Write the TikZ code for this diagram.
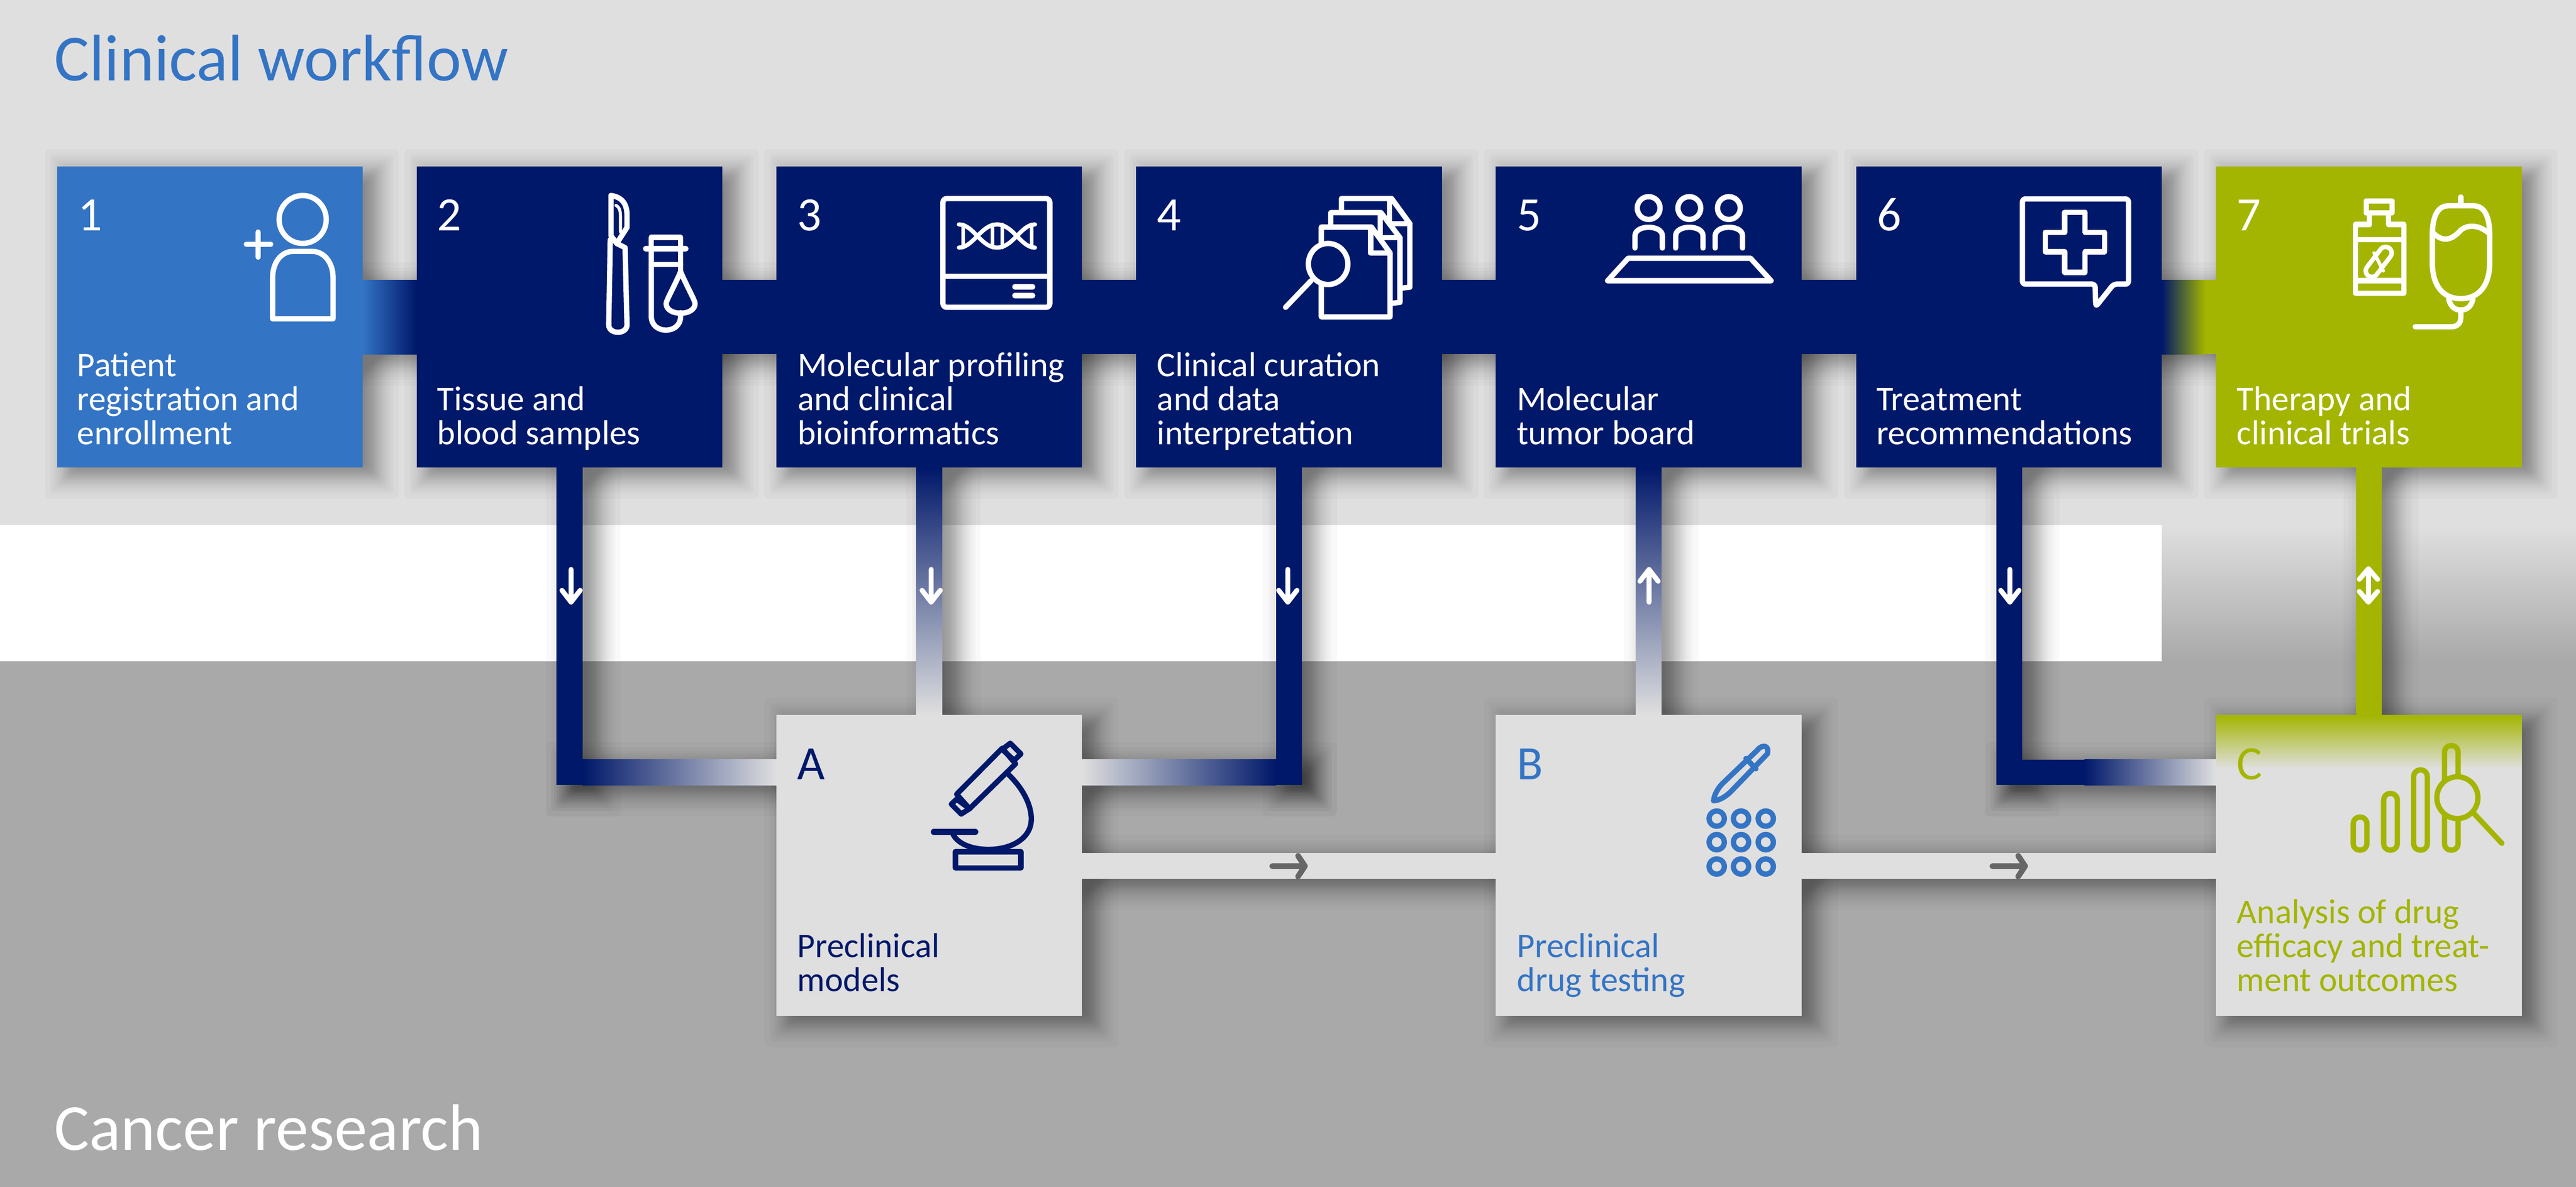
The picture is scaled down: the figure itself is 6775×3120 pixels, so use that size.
\documentclass[tikz,border=0pt]{standalone}
\usepackage{fontspec}
\setmainfont{Carlito}
\usetikzlibrary{calc}
\definecolor{navy}{HTML}{00186A}
\definecolor{blu}{HTML}{3474C4}
\definecolor{grn}{HTML}{A3B500}
\definecolor{lite}{HTML}{DFDFDF}
\definecolor{mid}{HTML}{A9A9A9}
\definecolor{arrgray}{HTML}{666666}
\pgfdeclarelayer{bgl}\pgfdeclarelayer{shl}\pgfdeclarelayer{conn}
\pgfsetlayers{bgl,shl,conn,main}
\newcommand{\softshadow}[4]{%
  \foreach \e in {64,50,42,35,29,24,19,15,11,7,3,0,-3,-7,-11,-15,-19,-24,-29,-35,-42,-50,-64}{%
    \pgfmathsetmacro{\ax}{min(#1+32-\e,(#1+#3)/2+32)}%
    \pgfmathsetmacro{\ay}{min(#2+18-\e,(#2+#4)/2+18)}%
    \pgfmathsetmacro{\bx}{max(#3+32+\e,(#1+#3)/2+32)}%
    \pgfmathsetmacro{\by}{max(#4+18+\e,(#2+#4)/2+18)}%
    \fill[black,fill opacity=0.025,rounded corners=12pt] (\ax,\ay) rectangle (\bx,\by);
  }}
\newcommand{\downarr}[1]{\draw[whitearrow] (#1,1497)--(#1,1583) (#1-24,1552)--(#1,1583)--(#1+24,1552);}
\newcommand{\uparr}[1]{\draw[whitearrow] (#1,1583)--(#1,1497) (#1-24,1528)--(#1,1497)--(#1+24,1528);}
\newcommand{\grayarr}[2]{\draw[grayarrow] (#1,2277)--(#2,2277) (#2-18,2250)--(#2,2277)--(#2-18,2304);}
\tikzset{
  box/.style={rectangle,draw=none,inner sep=0pt,outer sep=0pt,minimum width=804pt,minimum height=791pt},
  num/.style={anchor=base west,inner sep=0pt,font=\fontsize{126}{126}\selectfont},
  lab/.style={anchor=base west,inner sep=0pt,align=left,font=\fontsize{91}{89}\selectfont},
  bigt/.style={anchor=base west,inner sep=0pt,font=\fontsize{173}{173}\selectfont},
  whitearrow/.style={draw=white,line width=13pt,line cap=round,line join=round},
  grayarrow/.style={draw=arrgray,line width=15pt,line cap=round,line join=round},
  ic/.style={line width=14pt,line cap=round,line join=round},
  icw/.style={ic,draw=white},
  icn/.style={ic,draw=navy},
  icb/.style={ic,draw=blu},
  icg/.style={ic,draw=grn},
}
\begin{document}
\begin{tikzpicture}[x=1pt,y=-1pt]
\useasboundingbox (0,0) rectangle (6775,3120);
\begin{pgfonlayer}{bgl}
  \fill[lite] (0,0) rectangle (6775,1381);
  \fill[white] (0,1381) rectangle (5686,1738);
  \shade[top color=lite,bottom color=mid] (5686,1381) rectangle (6775,1738);
  \fill[mid] (0,1738) rectangle (6775,3120);
\end{pgfonlayer}
% boxes
\node[box,fill=blu]  (s1) at (552,833.5) {};
\node[box,fill=navy] (s2) at (1498,833.5) {};
\node[box,fill=navy] (s3) at (2444,833.5) {};
\node[box,fill=navy] (s4) at (3390,833.5) {};
\node[box,fill=navy] (s5) at (4336,833.5) {};
\node[box,fill=navy] (s6) at (5284,833.5) {};
\node[box,fill=grn]  (s7) at (6230,833.5) {};
\node[box,fill=lite] (A) at (2444,2275.5) {};
\node[box,fill=lite] (B) at (4336,2275.5) {};
\node[box,fill=lite] (C) at (6230,2275.5) {};
\shade[top color=grn,bottom color=lite] (C.north west) rectangle (C.east |- 0,2020);
\begin{pgfonlayer}{shl}
  \softshadow{150}{438}{953}{1229}
  \softshadow{1096}{438}{1900}{1229}
  \softshadow{2042}{438}{2846}{1229}
  \softshadow{2989}{438}{3792}{1229}
  \softshadow{3935}{438}{4738}{1229}
  \softshadow{4883}{438}{5686}{1229}
  \softshadow{5829}{438}{6630}{1229}
  \softshadow{2042}{1880}{2846}{2671}
  \softshadow{3935}{1880}{4738}{2671}
  \softshadow{5829}{1880}{6630}{2671}
  \softshadow{953}{736}{5829}{931}
  \softshadow{1468}{1229}{1536}{2064}
  \softshadow{1468}{1997}{2042}{2064}
  \softshadow{2416}{1229}{2483}{1880}
  \softshadow{3353}{1229}{3420}{2064}
  \softshadow{2846}{1997}{3420}{2064}
  \softshadow{4303}{1229}{4371}{1880}
  \softshadow{5253}{1229}{5320}{2064}
  \softshadow{5253}{1997}{5829}{2064}
  \softshadow{6196}{1229}{6264}{1880}
  \softshadow{2846}{2242}{3935}{2310}
  \softshadow{4738}{2242}{5829}{2310}
\end{pgfonlayer}
\begin{pgfonlayer}{conn}
  \shade[left color=blu,right color=navy] (s1.east |- 0,736) rectangle (s2.west |- 0,931);
  \draw[navy,line width=195pt] (s2) -- (s3);
  \draw[navy,line width=195pt] (s3) -- (s4);
  \draw[navy,line width=195pt] (s4) -- (s5);
  \draw[navy,line width=195pt] (s5) -- (s6);
  \fill[navy] (s6.east |- 0,736) rectangle (5690,931);
  \shade[left color=navy,right color=grn] (5686,736) rectangle (5800,931);
  \fill[grn] (5800,736) rectangle (s7.west |- 0,931);
  % elbows
  \coordinate (k2) at (s2.south |- 0,2064);
  \coordinate (k4) at (s4.south |- 0,2064);
  \coordinate (k6) at (s6.south |- 0,2064);
  \draw[navy,line width=68pt] (s2.south) -- (k2);
  \shade[left color=navy,right color=lite] ($(k2)+(34,-67)$) rectangle (A.west |- k2);
  \shade[top color=navy,bottom color=lite] ($(s3.south)+(-34,0)$) rectangle ($(A.north)+(34,0)$);
  \draw[navy,line width=68pt] (s4.south) -- (k4);
  \shade[left color=lite,right color=navy] (A.east |- 0,1997) rectangle ($(k4)+(-34,0)$);
  \shade[bottom color=lite,top color=navy] ($(s5.south)+(-34,0)$) rectangle ($(B.north)+(34,0)$);
  \draw[navy,line width=68pt] (s6.south) -- (k6);
  \fill[navy] ($(k6)+(34,-67)$) rectangle (5482,2064);
  \shade[left color=navy,right color=lite] (5482,1997) rectangle (C.west |- k6);
  \draw[grn,line width=68pt] (s7.south) -- (C.north);
  \draw[lite,line width=68pt] (A.east |- 0,2276) -- (B.west |- 0,2276);
  \draw[lite,line width=68pt] (B.east |- 0,2276) -- (C.west |- 0,2276);
\end{pgfonlayer}
% arrows
\downarr{1502}\downarr{2449}\downarr{3387}\uparr{4337}\downarr{5286}
\draw[whitearrow] (6229,1495)--(6229,1583) (6205,1523)--(6229,1495)--(6253,1523) (6205,1555)--(6229,1583)--(6253,1555);
\grayarr{3346}{3432}
\grayarr{5240}{5326}
% titles
\node[bigt,text=blu] (t1) at (143,212) {Clinical workflow};
\node[bigt,text=white] (t2) at (143,3024) {Cancer research};
% numbers
\node[num,text=white] (n1) at (205,607) {1};
\node[num,text=white] (n2) at (1150,607) {2};
\node[num,text=white] (n3) at (2096,607) {3};
\node[num,text=white] (n4) at (3043,607) {4};
\node[num,text=white] (n5) at (3989,607) {5};
\node[num,text=white] (n6) at (4937,607) {6};
\node[num,text=white] (n7) at (5883,607) {7};
\node[num,text=navy] (na) at (2097,2049) {A};
\node[num,text=blu] (nb) at (3990,2049) {B};
\node[num,text=grn] (nc) at (5883,2049) {C};
% labels (anchor: last line baseline)
\node[lab,text=white] (l1) at (203,1168) {Patient\\registration and\\enrollment};
\node[lab,text=white] (l2) at (1150,1168) {Tissue and\\blood samples};
\node[lab,text=white] (l3) at (2098,1168) {Molecular profiling\\and clinical\\bioinformatics};
\node[lab,text=white] (l4) at (3043,1168) {Clinical curation\\and data\\interpretation};
\node[lab,text=white] (l5) at (3989,1168) {Molecular\\tumor board};
\node[lab,text=white] (l6) at (4935,1168) {Treatment\\recommendations};
\node[lab,text=white] (l7) at (5883,1168) {Therapy and\\clinical trials};
\node[lab,text=navy] (la) at (2097,2606) {Preclinical\\models};
\node[lab,text=blu] (lb) at (3990,2606) {Preclinical\\drug testing};
\node[lab,text=grn] (lc) at (5883,2606) {Analysis of drug\\efficacy and treat-\\ment outcomes};
% icon 1
\draw[icw] (796,577) ellipse [x radius=62,y radius=63];
\draw[icw] (717,838) -- (717,730) .. controls (717,690) and (740,661) .. (770,661) -- (822,661) .. controls (852,661) and (876,690) .. (876,730) -- (876,838) -- cycle;
\draw[icw] (648,642) -- (712,642) (679,610) -- (679,676);
% icon 2
\draw[icw] (1607,514) .. controls (1635,518) and (1649,535) .. (1649,565) -- (1649,598) -- (1622,640) -- (1607,620) -- cycle;
\draw[icw,line width=8pt] (1620,540) .. controls (1630,545) and (1632,555) .. (1632,575) -- (1632,610);
\draw[icw] (1605,630) -- (1601,854) .. controls (1601,880) and (1649,880) .. (1649,854) -- (1644,651) -- (1622,640);
\draw[icw] (1713,654) -- (1713,624) -- (1790,624) -- (1790,712);
\draw[icw] (1698,654) -- (1804,654);
\draw[icw] (1713,654) -- (1713,832) .. controls (1713,880) and (1790,880) .. (1790,832) -- (1790,822);
\draw[icw] (1713,695) -- (1790,695);
\draw[icw] (1790,714) .. controls (1805,750) and (1828,790) .. (1828,798) .. controls (1828,832) and (1752,832) .. (1752,798) .. controls (1752,790) and (1775,750) .. (1790,714) -- cycle;
% icon 3
\draw[icw,rounded corners=10pt] (2480,522) rectangle (2761,808);
\draw[icw] (2480,726) -- (2761,726);
\draw[icw] (2669,754) -- (2716,754) (2669,777) -- (2716,777);
\draw[icw,line width=11pt] (2522,590) .. controls (2560,590) and (2580,651) .. (2622,651) .. controls (2665,651) and (2685,590) .. (2722,590);
\draw[icw,line width=11pt] (2522,651) .. controls (2560,651) and (2580,590) .. (2622,590) .. controls (2665,590) and (2685,651) .. (2722,651);
\draw[icw,line width=9pt] (2533,590) -- (2533,651) (2610,590) -- (2610,651) (2636,590) -- (2636,651) (2713,590) -- (2713,651);
% icon 4
\draw[icw] (3528,555) -- (3528,522) -- (3660,522) -- (3708,588) -- (3708,755) -- (3690,757);
\draw[icw] (3654,525) -- (3654,588) -- (3708,588);
\draw[icw] (3500,590) -- (3500,559) -- (3632,559) -- (3682,625) -- (3682,795) -- (3662,797);
\draw[icw] (3630,562) -- (3630,625) -- (3682,625);
\draw[icw] (3475,640) -- (3475,597) -- (3607,597) -- (3656,665) -- (3656,833) -- (3475,833) -- (3475,740);
\draw[icw] (3605,600) -- (3605,665) -- (3656,665);
\draw[icw,fill=navy] (3493,694) ellipse [x radius=52,y radius=54];
\draw[icw] (3448,738) -- (3381,808);
% icon 5
\foreach \xx in {4336,4443,4547}{
  \draw[icw] (\xx,547) ellipse [x radius=30,y radius=30];
  \draw[icw] (\xx-36,652) -- (\xx-36,620) .. controls (\xx-36,590) and (\xx+36,590) .. (\xx+36,620) -- (\xx+36,652);
}
\draw[icw] (4282,679) -- (4604,679) -- (4658,738) -- (4228,738) -- cycle;
% icon 6
\draw[icw,rounded corners=8pt] (5319,523) -- (5598,523) -- (5598,747) -- (5559,747) -- (5512,806) -- (5510,747) -- (5319,747) -- cycle;
\draw[icw] (5430,558) -- (5484,558) -- (5484,611) -- (5535,611) -- (5535,662) -- (5484,662) -- (5484,716) -- (5430,716) -- (5430,662) -- (5379,662) -- (5379,611) -- (5430,611) -- cycle;
% icon 7
\draw[icw] (6223,528) rectangle (6291,560);
\draw[icw] (6232,560) -- (6232,590) -- (6195,590) -- (6195,771) -- (6322,771) -- (6322,590) -- (6282,590) -- (6282,560);
\draw[icw] (6195,630) -- (6322,630) (6195,738) -- (6322,738);
\draw[white,line width=44pt,line cap=round] (6274,665) -- (6238,712);
\draw[grn,line width=20pt,line cap=round] (6274,665) -- (6238,712);
\draw[icw,line width=9pt] (6244,665) -- (6268,712);
\draw[icw] (6472,518) -- (6472,540);
\draw[icw] (6440,541) -- (6505,541) .. controls (6535,541) and (6548,570) .. (6548,620) -- (6548,690) .. controls (6548,750) and (6520,785) .. (6472,785) .. controls (6424,785) and (6397,750) .. (6397,690) -- (6397,620) .. controls (6397,570) and (6410,541) .. (6440,541) -- cycle;
\draw[icw] (6397,610) .. controls (6425,640) and (6450,630) .. (6472,605) .. controls (6490,590) and (6520,590) .. (6548,615);
\draw[icw] (6440,785) .. controls (6445,810) and (6460,815) .. (6472,815) .. controls (6484,815) and (6499,810) .. (6504,785);
\draw[icw] (6472,815) -- (6472,835) .. controls (6472,850) and (6462,859) .. (6448,859) -- (6352,859);
% icon A
\draw[icn] (2636,1967) -- (2671,2008) -- (2550,2126) -- (2516,2088) -- cycle;
\draw[icn] (2657,1954) -- (2685,1982) -- (2667,1999) -- (2636,1970) -- cycle;
\draw[icn] (2516,2101) -- (2550,2126) -- (2528,2140) -- (2502,2114) -- cycle;
\draw[icn] (2648,2032) .. controls (2700,2080) and (2715,2130) .. (2712,2160) .. controls (2708,2205) and (2660,2233) .. (2600,2233) .. controls (2550,2233) and (2515,2215) .. (2505,2190);
\draw[icn,line width=16pt] (2456,2187) -- (2565,2187);
\draw[icn] (2513,2239) rectangle (2685,2282);
% icon B
\draw[icb] (4622,1972) .. controls (4635,1955) and (4655,1960) .. (4648,1982) -- (4558,2075) .. controls (4540,2095) and (4520,2105) .. (4507,2105) .. controls (4508,2088) and (4520,2070) .. (4530,2060) -- cycle;
\draw[icb] (4592,1994) -- (4618,2021);
\foreach \xx in {4515,4579,4644}{\foreach \yy in {2152,2214,2278}{
  \draw[icb] (\xx,\yy) ellipse [x radius=20,y radius=20];
}}
% icon C
\foreach \xx/\tt in {6207/2142,6287/2080,6366/2018,6447/1954}{
  \draw[icg,rounded corners=17pt] (\xx-18,\tt+6) rectangle (\xx+18,2235);
}
\draw[icg,fill=lite] (6463,2097) ellipse [x radius=54,y radius=55];
\draw[icg] (6505,2137) -- (6580,2217);
\end{tikzpicture}
\end{document}
